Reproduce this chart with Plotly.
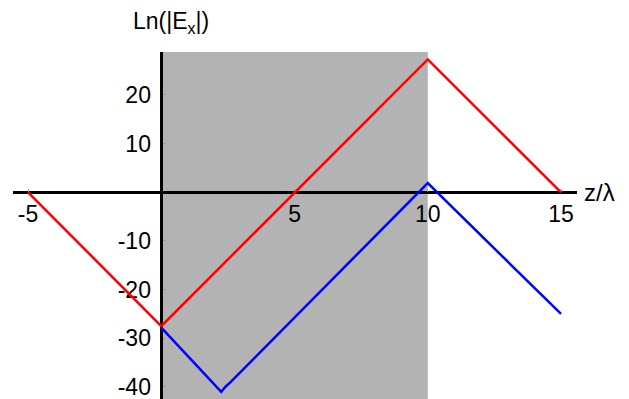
import plotly.graph_objects as go

# red curve: ln|Ex| for the first case
red_z = [-5, 0, 10, 15]
red_lnE = [0, -27.5, 27.3, 0]

# blue curve: second case, with the dip near z = 2.25
blue_z = [0, 1.9, 2.1, 2.25, 2.4, 2.6, 10, 15]
blue_lnE = [-27.8, -39.0, -40.0, -41.0, -40.0, -39.0, 1.9, -25]

# shaded slab region (z/lambda)
slab = [0, 10]

x_ticks = [-5, 5, 10, 15]
x_labels = ["-5", "5", "10", "15"]
y_ticks = [-40, -30, -20, -10, 10, 20]
y_labels = ["-40", "-30", "-20", "-10", "10", "20"]

x_range = [-5.565, 15.6]
y_range = [-42.47, 28.83]

FONT = "Liberation Sans, Arial, sans-serif"
FSIZE = 23

fig = go.Figure()
fig.add_trace(go.Scatter(x=red_z, y=red_lnE, mode="lines",
                         line=dict(color="#ff0000", width=2.5), showlegend=False))
fig.add_trace(go.Scatter(x=blue_z, y=blue_lnE, mode="lines",
                         line=dict(color="#0000ff", width=2.5), showlegend=False))

fig.add_shape(type="rect", xref="x", yref="paper", x0=slab[0], x1=slab[1], y0=0, y1=1,
              fillcolor="#b3b3b3", line_width=0, layer="below")

# axes cross at the origin
x_pos = (0 - y_range[0]) / (y_range[1] - y_range[0])
y_pos = (0 - x_range[0]) / (x_range[1] - x_range[0])

fig.update_xaxes(range=x_range, anchor="free", position=x_pos, automargin=False,
                 showline=True, linecolor="black", linewidth=2.5,
                 showgrid=False, zeroline=False,
                 tickvals=x_ticks, ticktext=x_labels, ticklabeloverflow="allow",
                 ticks="inside", ticklen=3, tickcolor="#999", tickwidth=1,
                 tickfont=dict(size=FSIZE, color="black", family=FONT),
                 layer="below traces")
fig.update_yaxes(range=y_range, anchor="free", position=y_pos, automargin=False,
                 showline=True, linecolor="black", linewidth=2.5,
                 showgrid=False, zeroline=False,
                 tickvals=y_ticks, ticktext=y_labels, ticklabeloverflow="allow",
                 ticks="inside", ticklen=3, tickcolor="#999", tickwidth=1,
                 ticklabelstandoff=5,
                 tickfont=dict(size=FSIZE, color="black", family=FONT),
                 layer="below traces")

fig.add_annotation(text="Ln(|E<sub>x</sub>|)", xref="x", x=0.35, yref="paper", y=1,
                   xanchor="center", yanchor="bottom", yshift=13, showarrow=False,
                   font=dict(size=FSIZE, color="black", family=FONT))
fig.add_annotation(text="z/λ", xref="paper", x=1, yref="y", y=0,
                   xanchor="left", yanchor="middle", xshift=5, showarrow=False,
                   font=dict(size=24, color="black", family=FONT))

fig.update_layout(width=629, height=399,
                  margin=dict(l=13, r=52, t=52, b=0, autoexpand=False),
                  plot_bgcolor="white", paper_bgcolor="white")

# page body has a default 8px margin; drop it so the figure fills the window
fig.write_html("out.html", config={"displayModeBar": False},
               post_script="document.body.style.margin='0px';")
